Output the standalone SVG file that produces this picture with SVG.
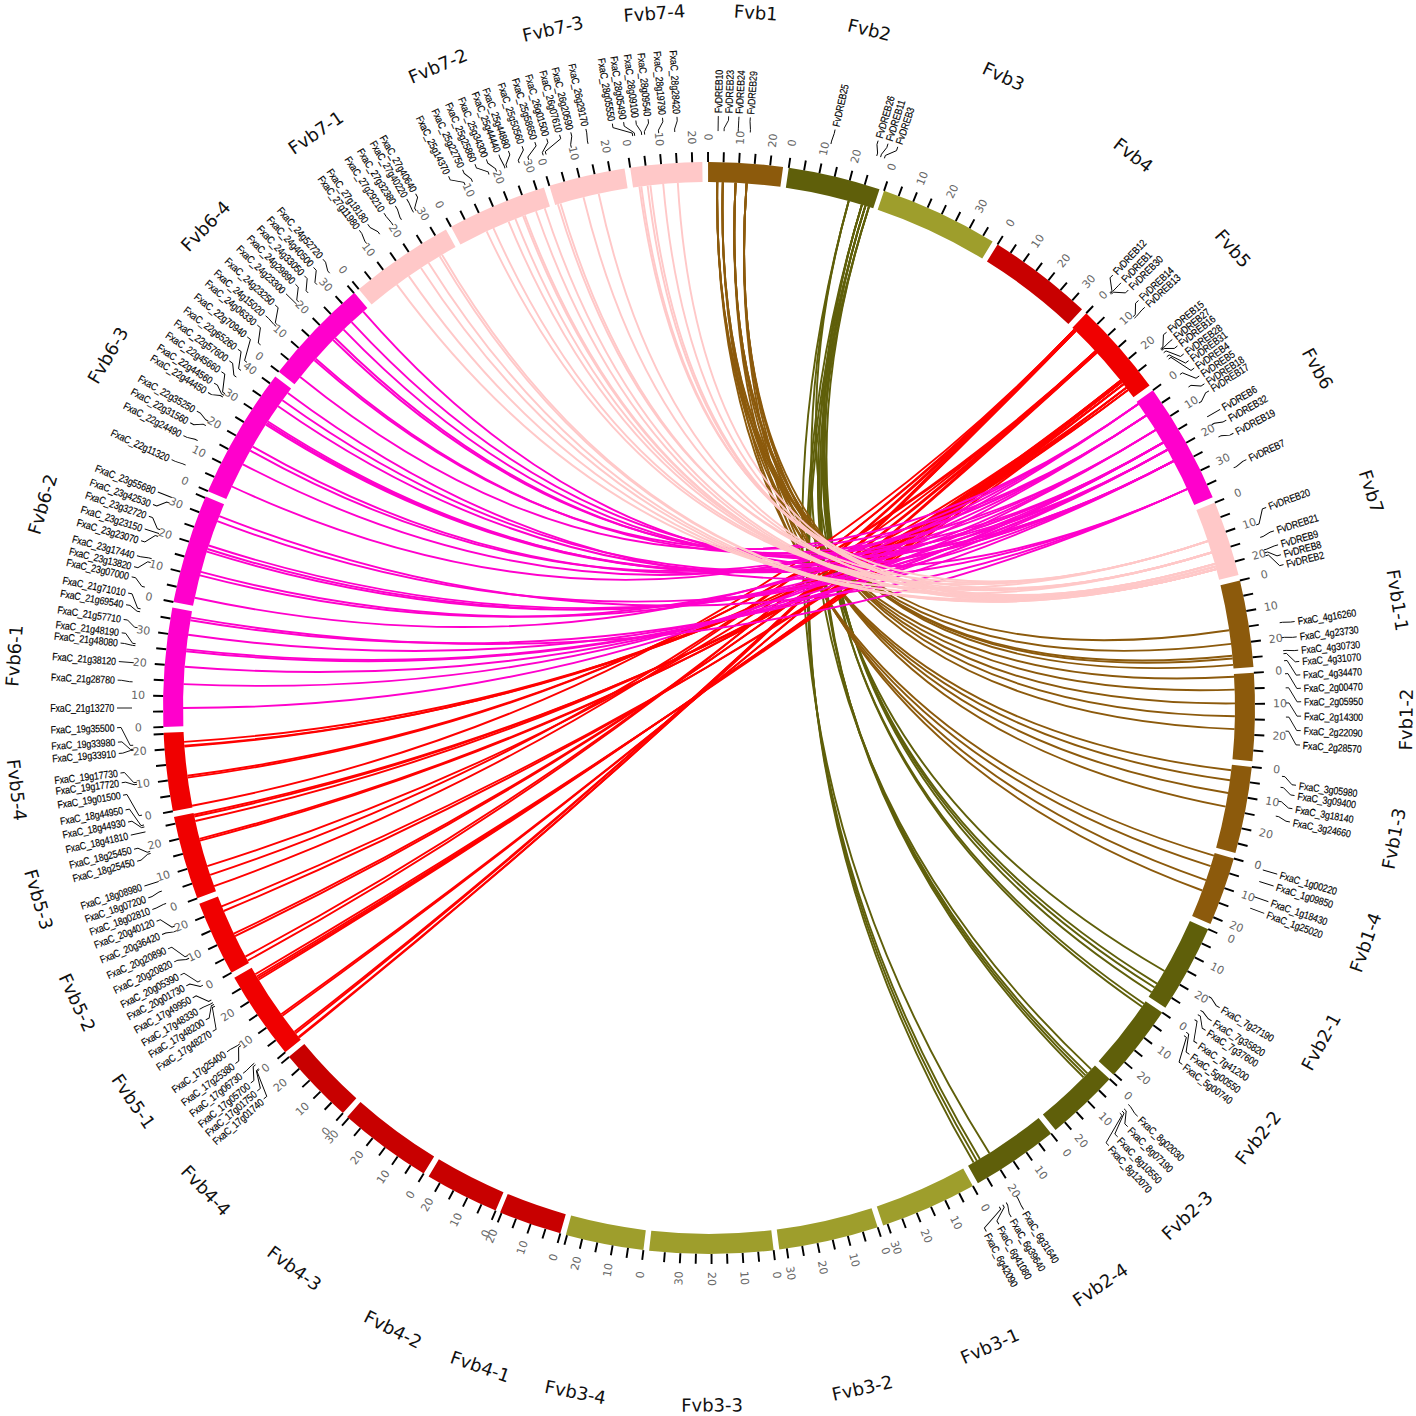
<svg xmlns="http://www.w3.org/2000/svg" width="1416" height="1416" viewBox="0 0 1416 1416">
<style>
.seg{fill:none;stroke-width:20}
.tk{fill:none;stroke:#000;stroke-width:10}
.t5{stroke-dasharray:0.2 1.435 0.2 1.435 0.2 1.435 0.2 1.435 0.2 400}
.t6{stroke-dasharray:0.2 1.435 0.2 1.435 0.2 1.435 0.2 1.435 0.2 1.435 0.2 400}
.t7{stroke-dasharray:0.2 1.435 0.2 1.435 0.2 1.435 0.2 1.435 0.2 1.435 0.2 1.435 0.2 400}
.t8{stroke-dasharray:0.2 1.435 0.2 1.435 0.2 1.435 0.2 1.435 0.2 1.435 0.2 1.435 0.2 1.435 0.2 400}
.t9{stroke-dasharray:0.2 1.435 0.2 1.435 0.2 1.435 0.2 1.435 0.2 1.435 0.2 1.435 0.2 1.435 0.2 1.435 0.2 400}
.tl{font-family:"DejaVu Sans",sans-serif;font-size:11px;fill:#666;text-anchor:middle;dominant-baseline:central}
.cn{font-family:"DejaVu Sans",sans-serif;font-size:18px;fill:#111;text-anchor:middle;dominant-baseline:central}
.gr,.gl{font-family:"Liberation Sans",Arial,sans-serif;font-size:10.5px;letter-spacing:-0.2px;fill:#000;stroke:#000;stroke-width:0.15;dominant-baseline:central}
.gl{text-anchor:end}
.ld{fill:none;stroke:#000;stroke-width:0.9}
.lk path{fill:none;stroke-width:1.9}
</style>
<rect width="1416" height="1416" fill="#fff"/>
<g id="links" class="lk">
<g stroke="#5F5F0A">
<path d="M1164.5 971Q709 708 848.7 200.9"/>
<path d="M1157 983.6Q709 708 861.9 204.7"/>
<path d="M1154.6 987.5Q709 708 865.4 205.8"/>
<path d="M1151.6 992.2Q709 708 868.9 206.9"/>
<path d="M1144 1003.7Q709 708 861.9 204.7"/>
<path d="M1142 1006.7Q709 708 865.4 205.8"/>
<path d="M1091.2 1069.4Q709 708 848.7 200.9"/>
<path d="M1087.4 1073.4Q709 708 861.9 204.7"/>
<path d="M1085.5 1075.4Q709 708 865.4 205.8"/>
<path d="M1083.5 1077.3Q709 708 868.9 206.9"/>
<path d="M989.3 1153.1Q709 708 848.7 200.9"/>
<path d="M979.9 1158.9Q709 708 861.9 204.7"/>
<path d="M976.8 1160.8Q709 708 865.4 205.8"/>
<path d="M973.6 1162.6Q709 708 868.9 206.9"/>
</g>
<g stroke="#8C5A0C">
<path d="M1229.2 630.3Q709 708 717.3 182.1"/>
<path d="M1231.1 643.9Q709 708 722.8 182.2"/>
<path d="M1232.4 655.8Q709 708 735.6 182.7"/>
<path d="M1232.7 658.5Q709 708 735.6 182.7"/>
<path d="M1233.2 664.9Q709 708 746.6 183.3"/>
<path d="M1234.1 676.8Q709 708 717.3 182.1"/>
<path d="M1234.7 689.6Q709 708 722.8 182.2"/>
<path d="M1235 703.4Q709 708 735.6 182.7"/>
<path d="M1234.9 716.3Q709 708 746.6 183.3"/>
<path d="M1234.6 729.1Q709 708 746.6 183.3"/>
<path d="M1231.3 770.3Q709 708 717.3 182.1"/>
<path d="M1230 780.3Q709 708 722.8 182.2"/>
<path d="M1228.1 793Q709 708 735.6 182.7"/>
<path d="M1225.7 806.6Q709 708 746.6 183.3"/>
<path d="M1213.9 855.6Q709 708 717.3 182.1"/>
<path d="M1210.7 866.2Q709 708 722.8 182.2"/>
<path d="M1206 880.1Q709 708 735.6 182.7"/>
<path d="M1202.3 890.5Q709 708 746.6 183.3"/>
</g>
<g stroke="#FF0000">
<path d="M299.1 1037.6Q709 708 1074.4 329.6"/>
<path d="M298.5 1036.9Q709 708 1075.7 330.9"/>
<path d="M295.6 1033.3Q709 708 1074.4 329.6"/>
<path d="M294.5 1031.8Q709 708 1075.7 330.9"/>
<path d="M282.4 1015.7Q709 708 1095.6 351.3"/>
<path d="M281.3 1014.2Q709 708 1096.8 352.6"/>
<path d="M258.6 979.7Q709 708 1120.7 380.6"/>
<path d="M257.7 978.1Q709 708 1121.8 382"/>
<path d="M256.7 976.5Q709 708 1123.5 384.2"/>
<path d="M255.3 974.2Q709 708 1126.3 387.8"/>
<path d="M247.6 960.6Q709 708 1074.4 329.6"/>
<path d="M245.4 956.6Q709 708 1075.7 330.9"/>
<path d="M235 936.1Q709 708 1095.6 351.3"/>
<path d="M233.8 933.6Q709 708 1096.8 352.6"/>
<path d="M223.7 911Q709 708 1120.7 380.6"/>
<path d="M221 906.7Q709 708 1123.5 384.2"/>
<path d="M214.1 886.2Q709 708 1074.4 329.6"/>
<path d="M210.2 874.9Q709 708 1075.7 330.9"/>
<path d="M207.3 866.2Q709 708 1095.6 351.3"/>
<path d="M200 840.6Q709 708 1120.7 380.6"/>
<path d="M199.5 838.8Q709 708 1121.8 382"/>
<path d="M195.3 821Q709 708 1123.5 384.2"/>
<path d="M194.3 816.5Q709 708 1126.3 387.8"/>
<path d="M193.9 814.7Q709 708 1128 390"/>
<path d="M192.1 805.7Q709 708 1074.4 329.6"/>
<path d="M187.6 777.6Q709 708 1095.6 351.3"/>
<path d="M187.4 775.7Q709 708 1096.8 352.6"/>
<path d="M184.4 746.5Q709 708 1121.8 382"/>
<path d="M184.3 745.6Q709 708 1126.3 387.8"/>
<path d="M184.1 741.9Q709 708 1128 390"/>
</g>
<g stroke="#FF00CC">
<path d="M183 708Q709 708 1138.3 404"/>
<path d="M183.5 684.1Q709 708 1146.2 415.5"/>
<path d="M184.6 666.7Q709 708 1155.6 430"/>
<path d="M186.1 651.2Q709 708 1163.1 442.6"/>
<path d="M186.3 649.4Q709 708 1163.1 442.6"/>
<path d="M188.1 634.8Q709 708 1167.3 449.8"/>
<path d="M190.4 620.3Q709 708 1173.4 461.1"/>
<path d="M190.8 617.6Q709 708 1187.3 489"/>
<path d="M194.7 597.7Q709 708 1138.3 404"/>
<path d="M200 575.4Q709 708 1146.2 415.5"/>
<path d="M200.9 571.9Q709 708 1155.6 430"/>
<path d="M206.8 551.6Q709 708 1163.1 442.6"/>
<path d="M207.6 549Q709 708 1167.3 449.8"/>
<path d="M208.7 545.5Q709 708 1167.3 449.8"/>
<path d="M217.3 521.2Q709 708 1173.4 461.1"/>
<path d="M219.3 516.1Q709 708 1187.3 489"/>
<path d="M231.9 486.5Q709 708 1138.3 404"/>
<path d="M242.9 464.3Q709 708 1146.2 415.5"/>
<path d="M250.3 450.6Q709 708 1146.2 415.5"/>
<path d="M252.6 446.6Q709 708 1155.6 430"/>
<path d="M265.9 424.6Q709 708 1163.1 442.6"/>
<path d="M266.9 423.1Q709 708 1163.1 442.6"/>
<path d="M267.9 421.5Q709 708 1167.3 449.8"/>
<path d="M278.1 406.3Q709 708 1173.4 461.1"/>
<path d="M282.4 400.3Q709 708 1173.4 461.1"/>
<path d="M287.8 392.9Q709 708 1187.3 489"/>
<path d="M300.2 377Q709 708 1138.3 404"/>
<path d="M314.4 360.2Q709 708 1146.2 415.5"/>
<path d="M315.7 358.8Q709 708 1155.6 430"/>
<path d="M333.2 340Q709 708 1163.1 442.6"/>
<path d="M335.1 338Q709 708 1167.3 449.8"/>
<path d="M343.6 329.6Q709 708 1173.4 461.1"/>
<path d="M351.6 322.1Q709 708 1173.4 461.1"/>
<path d="M363.2 311.6Q709 708 1187.3 489"/>
</g>
<g stroke="#FFC8C8">
<path d="M396.9 284.6Q709 708 1207.8 541.1"/>
<path d="M408.8 276.1Q709 708 1211.5 552.5"/>
<path d="M421 267.9Q709 708 1214.9 563.9"/>
<path d="M428.7 262.9Q709 708 1215.6 566.5"/>
<path d="M439.7 256.2Q709 708 1216.4 569.2"/>
<path d="M442 254.8Q709 708 1216.4 569.2"/>
<path d="M486.7 231.3Q709 708 1207.8 541.1"/>
<path d="M493.4 228.2Q709 708 1207.8 541.1"/>
<path d="M508.6 221.7Q709 708 1211.5 552.5"/>
<path d="M515.4 218.9Q709 708 1211.5 552.5"/>
<path d="M523.1 216Q709 708 1214.9 563.9"/>
<path d="M524.8 215.3Q709 708 1215.6 566.5"/>
<path d="M536 211.3Q709 708 1216.4 569.2"/>
<path d="M544.7 208.3Q709 708 1216.4 569.2"/>
<path d="M557.9 204.2Q709 708 1207.8 541.1"/>
<path d="M560.5 203.4Q709 708 1211.5 552.5"/>
<path d="M583.5 197.2Q709 708 1214.9 563.9"/>
<path d="M598.7 193.7Q709 708 1216.4 569.2"/>
<path d="M639.4 186.6Q709 708 1207.8 541.1"/>
<path d="M641.3 186.4Q709 708 1211.5 552.5"/>
<path d="M647.6 185.6Q709 708 1214.9 563.9"/>
<path d="M650.4 185.3Q709 708 1215.6 566.5"/>
<path d="M663.2 184Q709 708 1216.4 569.2"/>
<path d="M677.8 182.9Q709 708 1216.4 569.2"/>
</g>
</g>

<g id="Fvb1">
<circle class="seg" cx="709" cy="708" r="536" pathLength="360" stroke="#8C5A0C" stroke-dasharray="7.9 400" transform="rotate(269.9 709 708)"/>
<circle class="tk t5" cx="709" cy="708" r="551" pathLength="360" transform="rotate(269.8 709 708)"/>
<text class="tl" transform="rotate(359.9 709 708) translate(709 137) rotate(90)">0</text>
<text class="tl" transform="rotate(3.17 709 708) translate(709 137) rotate(-90)">10</text>
<text class="tl" transform="rotate(6.44 709 708) translate(709 137) rotate(-90)">20</text>
<text class="cn" x="709" y="11" transform="rotate(3.85 709 708)">Fvb1</text>
<path class="ld" transform="rotate(0.9 709 708)" d="M709 131V128L709 120V116"/>
<path class="ld" transform="rotate(1.5 709 708)" d="M709 131V128L713.1 120V116"/>
<path class="ld" transform="rotate(2.9 709 708)" d="M709 131V128L709 120V116"/>
<path class="ld" transform="rotate(4.1 709 708)" d="M709 131V128L708 120V116"/>
<text class="gr" transform="rotate(0.9 709 708) translate(709 113) rotate(-90) scale(.85 1)">FvDREB10</text>
<text class="gr" transform="rotate(1.9 709 708) translate(709 113) rotate(-90) scale(.85 1)">FvDREB23</text>
<text class="gr" transform="rotate(2.9 709 708) translate(709 113) rotate(-90) scale(.85 1)">FvDREB24</text>
<text class="gr" transform="rotate(4 709 708) translate(709 113) rotate(-90) scale(.85 1)">FvDREB29</text>
</g>

<g id="Fvb2">
<circle class="seg" cx="709" cy="708" r="536" pathLength="360" stroke="#5F5F0A" stroke-dasharray="9.8 400" transform="rotate(-81.6 709 708)"/>
<circle class="tk t6" cx="709" cy="708" r="551" pathLength="360" transform="rotate(-81.7 709 708)"/>
<text class="tl" transform="rotate(8.4 709 708) translate(709 137) rotate(-90)">0</text>
<text class="tl" transform="rotate(11.67 709 708) translate(709 137) rotate(-90)">10</text>
<text class="tl" transform="rotate(14.94 709 708) translate(709 137) rotate(-90)">20</text>
<text class="cn" x="709" y="11" transform="rotate(13.3 709 708)">Fvb2</text>
<path class="ld" transform="rotate(12.2 709 708)" d="M709 131V128L710 120V116"/>
<path class="ld" transform="rotate(16.9 709 708)" d="M709 131V128L705.9 120V116"/>
<path class="ld" transform="rotate(17.3 709 708)" d="M709 131V128L712.1 120V116"/>
<path class="ld" transform="rotate(17.7 709 708)" d="M709 131V128L718.2 120V116"/>
<text class="gr" transform="rotate(12.3 709 708) translate(709 113) rotate(-90) scale(.85 1)">FvDREB25</text>
<text class="gr" transform="rotate(16.6 709 708) translate(709 113) rotate(-90) scale(.85 1)">FvDREB26</text>
<text class="gr" transform="rotate(17.6 709 708) translate(709 113) rotate(-90) scale(.85 1)">FvDREB11</text>
<text class="gr" transform="rotate(18.6 709 708) translate(709 113) rotate(-90) scale(.85 1)">FvDREB3</text>
</g>

<g id="Fvb3">
<circle class="seg" cx="709" cy="708" r="536" pathLength="360" stroke="#9E9E2C" stroke-dasharray="12.6 400" transform="rotate(-71.3 709 708)"/>
<circle class="tk t8" cx="709" cy="708" r="551" pathLength="360" transform="rotate(-71.4 709 708)"/>
<text class="tl" transform="rotate(18.7 709 708) translate(709 137) rotate(-90)">0</text>
<text class="tl" transform="rotate(21.97 709 708) translate(709 137) rotate(-90)">10</text>
<text class="tl" transform="rotate(25.24 709 708) translate(709 137) rotate(-90)">20</text>
<text class="tl" transform="rotate(28.51 709 708) translate(709 137) rotate(-90)">30</text>
<text class="cn" x="709" y="11" transform="rotate(25 709 708)">Fvb3</text>
</g>

<g id="Fvb4">
<circle class="seg" cx="709" cy="708" r="536" pathLength="360" stroke="#C80000" stroke-dasharray="11.2 400" transform="rotate(-58.1 709 708)"/>
<circle class="tk t7" cx="709" cy="708" r="551" pathLength="360" transform="rotate(-58.2 709 708)"/>
<text class="tl" transform="rotate(31.9 709 708) translate(709 137) rotate(-90)">0</text>
<text class="tl" transform="rotate(35.17 709 708) translate(709 137) rotate(-90)">10</text>
<text class="tl" transform="rotate(38.44 709 708) translate(709 137) rotate(-90)">20</text>
<text class="tl" transform="rotate(41.71 709 708) translate(709 137) rotate(-90)">30</text>
<text class="cn" x="709" y="11" transform="rotate(37.5 709 708)">Fvb4</text>
</g>

<g id="Fvb5">
<circle class="seg" cx="709" cy="708" r="536" pathLength="360" stroke="#F00000" stroke-dasharray="10.1 400" transform="rotate(-46.3 709 708)"/>
<circle class="tk t6" cx="709" cy="708" r="551" pathLength="360" transform="rotate(-46.4 709 708)"/>
<text class="tl" transform="rotate(43.7 709 708) translate(709 137) rotate(-90)">0</text>
<text class="tl" transform="rotate(46.97 709 708) translate(709 137) rotate(-90)">10</text>
<text class="tl" transform="rotate(50.24 709 708) translate(709 137) rotate(-90)">20</text>
<text class="cn" x="709" y="11" transform="rotate(48.75 709 708)">Fvb5</text>
<path class="ld" transform="rotate(44 709 708)" d="M709 131V128L698.7 120V116"/>
<path class="ld" transform="rotate(44.1 709 708)" d="M709 131V128L709 120V116"/>
<path class="ld" transform="rotate(44.2 709 708)" d="M709 131V128L718.2 120V116"/>
<path class="ld" transform="rotate(47.3 709 708)" d="M709 131V128L700.8 120V116"/>
<path class="ld" transform="rotate(47.5 709 708)" d="M709 131V128L708 120V116"/>
<path class="ld" transform="rotate(51.5 709 708)" d="M709 131V128L699.8 120V116"/>
<path class="ld" transform="rotate(51.6 709 708)" d="M709 131V128L708 120V116"/>
<path class="ld" transform="rotate(51.7 709 708)" d="M709 131V128L715.2 120V116"/>
<path class="ld" transform="rotate(52 709 708)" d="M709 131V128L722.3 120V116"/>
<path class="ld" transform="rotate(52.5 709 708)" d="M709 131V128L725.4 120V116"/>
<path class="ld" transform="rotate(52.8 709 708)" d="M709 131V128L731.6 120V116"/>
<text class="gr" transform="rotate(43 709 708) translate(709 113) rotate(-90) scale(.85 1)">FvDREB12</text>
<text class="gr" transform="rotate(44.1 709 708) translate(709 113) rotate(-90) scale(.85 1)">FvDREB1</text>
<text class="gr" transform="rotate(45.1 709 708) translate(709 113) rotate(-90) scale(.85 1)">FvDREB30</text>
<text class="gr" transform="rotate(46.5 709 708) translate(709 113) rotate(-90) scale(.85 1)">FvDREB14</text>
<text class="gr" transform="rotate(47.4 709 708) translate(709 113) rotate(-90) scale(.85 1)">FvDREB13</text>
<text class="gr" transform="rotate(50.6 709 708) translate(709 113) rotate(-90) scale(.85 1)">FvDREB15</text>
<text class="gr" transform="rotate(51.5 709 708) translate(709 113) rotate(-90) scale(.85 1)">FvDREB27</text>
<text class="gr" transform="rotate(52.3 709 708) translate(709 113) rotate(-90) scale(.85 1)">FvDREB16</text>
<text class="gr" transform="rotate(53.3 709 708) translate(709 113) rotate(-90) scale(.85 1)">FvDREB28</text>
<text class="gr" transform="rotate(54.1 709 708) translate(709 113) rotate(-90) scale(.85 1)">FvDREB31</text>
<text class="gr" transform="rotate(55 709 708) translate(709 113) rotate(-90) scale(.85 1)">FvDREB4</text>
</g>

<g id="Fvb6">
<circle class="seg" cx="709" cy="708" r="536" pathLength="360" stroke="#FF00CC" stroke-dasharray="12.9 400" transform="rotate(-35.6 709 708)"/>
<circle class="tk t8" cx="709" cy="708" r="551" pathLength="360" transform="rotate(-35.7 709 708)"/>
<text class="tl" transform="rotate(54.4 709 708) translate(709 137) rotate(-90)">0</text>
<text class="tl" transform="rotate(57.67 709 708) translate(709 137) rotate(-90)">10</text>
<text class="tl" transform="rotate(60.94 709 708) translate(709 137) rotate(-90)">20</text>
<text class="tl" transform="rotate(64.21 709 708) translate(709 137) rotate(-90)">30</text>
<text class="cn" x="709" y="11" transform="rotate(60.85 709 708)">Fvb6</text>
<path class="ld" transform="rotate(54.7 709 708)" d="M709 131V128L721.3 120V116"/>
<path class="ld" transform="rotate(56.2 709 708)" d="M709 131V128L715.2 120V116"/>
<path class="ld" transform="rotate(58.1 709 708)" d="M709 131V128L703.9 120V116"/>
<path class="ld" transform="rotate(59.7 709 708)" d="M709 131V128L709 120V116"/>
<path class="ld" transform="rotate(60.6 709 708)" d="M709 131V128L712.1 120V116"/>
<path class="ld" transform="rotate(62 709 708)" d="M709 131V128L712.6 120V116"/>
<path class="ld" transform="rotate(65.4 709 708)" d="M709 131V128L706.9 120V116"/>
<text class="gr" transform="rotate(55.9 709 708) translate(709 113) rotate(-90) scale(.85 1)">FvDREB5</text>
<text class="gr" transform="rotate(56.8 709 708) translate(709 113) rotate(-90) scale(.85 1)">FvDREB18</text>
<text class="gr" transform="rotate(57.6 709 708) translate(709 113) rotate(-90) scale(.85 1)">FvDREB17</text>
<text class="gr" transform="rotate(59.7 709 708) translate(709 113) rotate(-90) scale(.85 1)">FvDREB6</text>
<text class="gr" transform="rotate(60.9 709 708) translate(709 113) rotate(-90) scale(.85 1)">FvDREB32</text>
<text class="gr" transform="rotate(62.35 709 708) translate(709 113) rotate(-90) scale(.85 1)">FvDREB19</text>
<text class="gr" transform="rotate(65.2 709 708) translate(709 113) rotate(-90) scale(.85 1)">FvDREB7</text>
</g>

<g id="Fvb7">
<circle class="seg" cx="709" cy="708" r="536" pathLength="360" stroke="#FFC8C8" stroke-dasharray="8 400" transform="rotate(-22.1 709 708)"/>
<circle class="tk t5" cx="709" cy="708" r="551" pathLength="360" transform="rotate(-22.2 709 708)"/>
<text class="tl" transform="rotate(67.9 709 708) translate(709 137) rotate(-90)">0</text>
<text class="tl" transform="rotate(71.17 709 708) translate(709 137) rotate(-90)">10</text>
<text class="tl" transform="rotate(74.44 709 708) translate(709 137) rotate(-90)">20</text>
<text class="cn" x="709" y="11" transform="rotate(71.9 709 708)">Fvb7</text>
<path class="ld" transform="rotate(71.5 709 708)" d="M709 131V128L695.7 120V116"/>
<path class="ld" transform="rotate(72.8 709 708)" d="M709 131V128L706.9 120V116"/>
<path class="ld" transform="rotate(74.1 709 708)" d="M709 131V128L708 120V116"/>
<path class="ld" transform="rotate(74.4 709 708)" d="M709 131V128L715.2 120V116"/>
<path class="ld" transform="rotate(74.7 709 708)" d="M709 131V128L722.3 120V116"/>
<text class="gr" transform="rotate(70.2 709 708) translate(709 113) rotate(-90) scale(.85 1)">FvDREB20</text>
<text class="gr" transform="rotate(72.6 709 708) translate(709 113) rotate(-90) scale(.85 1)">FvDREB21</text>
<text class="gr" transform="rotate(74 709 708) translate(709 113) rotate(-90) scale(.85 1)">FvDREB9</text>
<text class="gr" transform="rotate(75 709 708) translate(709 113) rotate(-90) scale(.85 1)">FvDREB8</text>
<text class="gr" transform="rotate(76 709 708) translate(709 113) rotate(-90) scale(.85 1)">FvDREB2</text>
</g>

<g id="Fvb1-1">
<circle class="seg" cx="709" cy="708" r="536" pathLength="360" stroke="#8C5A0C" stroke-dasharray="9.2 400" transform="rotate(-13.5 709 708)"/>
<circle class="tk t6" cx="709" cy="708" r="551" pathLength="360" transform="rotate(-13.6 709 708)"/>
<text class="tl" transform="rotate(76.5 709 708) translate(709 137) rotate(-90)">0</text>
<text class="tl" transform="rotate(79.77 709 708) translate(709 137) rotate(-90)">10</text>
<text class="tl" transform="rotate(83.04 709 708) translate(709 137) rotate(-90)">20</text>
<text class="cn" x="709" y="11" transform="rotate(81.1 709 708)">Fvb1-1</text>
<path class="ld" transform="rotate(81.5 709 708)" d="M709 131V128L710 120V116"/>
<path class="ld" transform="rotate(83 709 708)" d="M709 131V128L710 120V116"/>
<path class="ld" transform="rotate(84.3 709 708)" d="M709 131V128L710 120V116"/>
<path class="ld" transform="rotate(84.6 709 708)" d="M709 131V128L718.2 120V116"/>
<path class="ld" transform="rotate(85.3 709 708)" d="M709 131V128L724.4 120V116"/>
<text class="gr" transform="rotate(81.6 709 708) translate(709 113) rotate(-90) scale(.85 1)">FxaC_4g16260</text>
<text class="gr" transform="rotate(83.1 709 708) translate(709 113) rotate(-90) scale(.85 1)">FxaC_4g23730</text>
<text class="gr" transform="rotate(84.4 709 708) translate(709 113) rotate(-90) scale(.85 1)">FxaC_4g30730</text>
<text class="gr" transform="rotate(85.5 709 708) translate(709 113) rotate(-90) scale(.85 1)">FxaC_4g31070</text>
<text class="gr" transform="rotate(86.8 709 708) translate(709 113) rotate(-90) scale(.85 1)">FxaC_4g34470</text>
</g>

<g id="Fvb1-2">
<circle class="seg" cx="709" cy="708" r="536" pathLength="360" stroke="#8C5A0C" stroke-dasharray="9.3 400" transform="rotate(-3.7 709 708)"/>
<circle class="tk t6" cx="709" cy="708" r="551" pathLength="360" transform="rotate(-3.8 709 708)"/>
<text class="tl" transform="rotate(86.3 709 708) translate(709 137) rotate(-90)">0</text>
<text class="tl" transform="rotate(89.57 709 708) translate(709 137) rotate(-90)">10</text>
<text class="tl" transform="rotate(92.84 709 708) translate(709 137) rotate(-90)">20</text>
<text class="cn" x="709" y="11" transform="rotate(90.95 709 708) rotate(180 709 11)">Fvb1-2</text>
<path class="ld" transform="rotate(86.6 709 708)" d="M709 131V128L724.4 120V116"/>
<path class="ld" transform="rotate(88 709 708)" d="M709 131V128L723.4 120V116"/>
<path class="ld" transform="rotate(89.5 709 708)" d="M709 131V128L722.3 120V116"/>
<path class="ld" transform="rotate(90.9 709 708)" d="M709 131V128L722.3 120V116"/>
<path class="ld" transform="rotate(92.3 709 708)" d="M709 131V128L722.3 120V116"/>
<text class="gr" transform="rotate(88.1 709 708) translate(709 113) rotate(-90) scale(.85 1)">FxaC_2g00470</text>
<text class="gr" transform="rotate(89.4 709 708) translate(709 113) rotate(-90) scale(.85 1)">FxaC_2g05950</text>
<text class="gr" transform="rotate(90.8 709 708) translate(709 113) rotate(-90) scale(.85 1)">FxaC_2g14300</text>
<text class="gr" transform="rotate(92.2 709 708) translate(709 113) rotate(-90) scale(.85 1)">FxaC_2g22090</text>
<text class="gr" transform="rotate(93.6 709 708) translate(709 113) rotate(-90) scale(.85 1)">FxaC_2g28570</text>
</g>

<g id="Fvb1-3">
<circle class="seg" cx="709" cy="708" r="536" pathLength="360" stroke="#8C5A0C" stroke-dasharray="9.2 400" transform="rotate(6.2 709 708)"/>
<circle class="tk t6" cx="709" cy="708" r="551" pathLength="360" transform="rotate(6.1 709 708)"/>
<text class="tl" transform="rotate(96.2 709 708) translate(709 137) rotate(-90)">0</text>
<text class="tl" transform="rotate(99.47 709 708) translate(709 137) rotate(-90)">10</text>
<text class="tl" transform="rotate(102.74 709 708) translate(709 137) rotate(-90)">20</text>
<text class="cn" x="709" y="11" transform="rotate(100.8 709 708) rotate(180 709 11)">Fvb1-3</text>
<path class="ld" transform="rotate(96.8 709 708)" d="M709 131V128L716.2 120V116"/>
<path class="ld" transform="rotate(97.9 709 708)" d="M709 131V128L715.2 120V116"/>
<path class="ld" transform="rotate(99.3 709 708)" d="M709 131V128L714.1 120V116"/>
<path class="ld" transform="rotate(100.8 709 708)" d="M709 131V128L712.1 120V116"/>
<text class="gr" transform="rotate(97.5 709 708) translate(709 113) rotate(-90) scale(.85 1)">FxaC_3g05980</text>
<text class="gr" transform="rotate(98.5 709 708) translate(709 113) rotate(-90) scale(.85 1)">FxaC_3g09400</text>
<text class="gr" transform="rotate(99.8 709 708) translate(709 113) rotate(-90) scale(.85 1)">FxaC_3g18140</text>
<text class="gr" transform="rotate(101.1 709 708) translate(709 113) rotate(-90) scale(.85 1)">FxaC_3g24660</text>
</g>

<g id="Fvb1-4">
<circle class="seg" cx="709" cy="708" r="536" pathLength="360" stroke="#8C5A0C" stroke-dasharray="7.3 400" transform="rotate(16 709 708)"/>
<circle class="tk t5" cx="709" cy="708" r="551" pathLength="360" transform="rotate(15.9 709 708)"/>
<text class="tl" transform="rotate(106 709 708) translate(709 137) rotate(-90)">0</text>
<text class="tl" transform="rotate(109.27 709 708) translate(709 137) rotate(-90)">10</text>
<text class="tl" transform="rotate(112.54 709 708) translate(709 137) rotate(-90)">20</text>
<text class="cn" x="709" y="11" transform="rotate(109.65 709 708) rotate(180 709 11)">Fvb1-4</text>
<path class="ld" transform="rotate(106.3 709 708)" d="M709 131V116"/>
<path class="ld" transform="rotate(107.5 709 708)" d="M709 131V116"/>
<path class="ld" transform="rotate(109.1 709 708)" d="M709 131V116"/>
<path class="ld" transform="rotate(110.3 709 708)" d="M709 131V116"/>
<text class="gr" transform="rotate(106.3 709 708) translate(709 113) rotate(-90) scale(.85 1)">FxaC_1g00220</text>
<text class="gr" transform="rotate(107.5 709 708) translate(709 113) rotate(-90) scale(.85 1)">FxaC_1g09850</text>
<text class="gr" transform="rotate(109.1 709 708) translate(709 113) rotate(-90) scale(.85 1)">FxaC_1g18430</text>
<text class="gr" transform="rotate(110.3 709 708) translate(709 113) rotate(-90) scale(.85 1)">FxaC_1g25020</text>
</g>

<g id="Fvb2-1">
<circle class="seg" cx="709" cy="708" r="536" pathLength="360" stroke="#5F5F0A" stroke-dasharray="9.4 400" transform="rotate(23.9 709 708)"/>
<circle class="tk t6" cx="709" cy="708" r="551" pathLength="360" transform="rotate(23.8 709 708)"/>
<text class="tl" transform="rotate(113.9 709 708) translate(709 137) rotate(-90)">0</text>
<text class="tl" transform="rotate(117.17 709 708) translate(709 137) rotate(-90)">10</text>
<text class="tl" transform="rotate(120.44 709 708) translate(709 137) rotate(-90)">20</text>
<text class="cn" x="709" y="11" transform="rotate(118.6 709 708) rotate(180 709 11)">Fvb2-1</text>
<path class="ld" transform="rotate(120 709 708)" d="M709 131V128L713.1 120V116"/>
<path class="ld" transform="rotate(121.6 709 708)" d="M709 131V128L712.1 120V116"/>
<path class="ld" transform="rotate(122.1 709 708)" d="M709 131V128L718.2 120V116"/>
<path class="ld" transform="rotate(122.7 709 708)" d="M709 131V128L727.5 120V116"/>
<text class="gr" transform="rotate(120.4 709 708) translate(709 113) rotate(-90) scale(.85 1)">FxaC_7g27190</text>
<text class="gr" transform="rotate(121.9 709 708) translate(709 113) rotate(-90) scale(.85 1)">FxaC_7g35820</text>
<text class="gr" transform="rotate(123 709 708) translate(709 113) rotate(-90) scale(.85 1)">FxaC_7g37600</text>
<text class="gr" transform="rotate(124.5 709 708) translate(709 113) rotate(-90) scale(.85 1)">FxaC_7g41200</text>
</g>

<g id="Fvb2-2">
<circle class="seg" cx="709" cy="708" r="536" pathLength="360" stroke="#5F5F0A" stroke-dasharray="8.3 400" transform="rotate(33.9 709 708)"/>
<circle class="tk t6" cx="709" cy="708" r="551" pathLength="360" transform="rotate(33.8 709 708)"/>
<text class="tl" transform="rotate(123.9 709 708) translate(709 137) rotate(-90)">0</text>
<text class="tl" transform="rotate(127.17 709 708) translate(709 137) rotate(-90)">10</text>
<text class="tl" transform="rotate(130.44 709 708) translate(709 137) rotate(-90)">20</text>
<text class="cn" x="709" y="11" transform="rotate(128.05 709 708) rotate(180 709 11)">Fvb2-2</text>
<path class="ld" transform="rotate(124.2 709 708)" d="M709 131V128L725.4 120V116"/>
<path class="ld" transform="rotate(124.6 709 708)" d="M709 131V128L733.6 120V116"/>
<text class="gr" transform="rotate(125.8 709 708) translate(709 113) rotate(-90) scale(.85 1)">FxaC_5g00550</text>
<text class="gr" transform="rotate(127 709 708) translate(709 113) rotate(-90) scale(.85 1)">FxaC_5g00740</text>
</g>

<g id="Fvb2-3">
<circle class="seg" cx="709" cy="708" r="536" pathLength="360" stroke="#5F5F0A" stroke-dasharray="7.8 400" transform="rotate(42.8 709 708)"/>
<circle class="tk t5" cx="709" cy="708" r="551" pathLength="360" transform="rotate(42.7 709 708)"/>
<text class="tl" transform="rotate(132.8 709 708) translate(709 137) rotate(-90)">0</text>
<text class="tl" transform="rotate(136.07 709 708) translate(709 137) rotate(-90)">10</text>
<text class="tl" transform="rotate(139.34 709 708) translate(709 137) rotate(-90)">20</text>
<text class="cn" x="709" y="11" transform="rotate(136.7 709 708) rotate(180 709 11)">Fvb2-3</text>
<path class="ld" transform="rotate(133.4 709 708)" d="M709 131V128L711.1 120V116"/>
<path class="ld" transform="rotate(134 709 708)" d="M709 131V128L719.3 120V116"/>
<path class="ld" transform="rotate(134.3 709 708)" d="M709 131V128L730.5 120V116"/>
<path class="ld" transform="rotate(134.6 709 708)" d="M709 131V128L739.8 120V116"/>
<text class="gr" transform="rotate(133.6 709 708) translate(709 113) rotate(-90) scale(.85 1)">FxaC_8g02030</text>
<text class="gr" transform="rotate(135 709 708) translate(709 113) rotate(-90) scale(.85 1)">FxaC_8g07190</text>
<text class="gr" transform="rotate(136.4 709 708) translate(709 113) rotate(-90) scale(.85 1)">FxaC_8g10550</text>
<text class="gr" transform="rotate(137.6 709 708) translate(709 113) rotate(-90) scale(.85 1)">FxaC_8g12070</text>
</g>

<g id="Fvb2-4">
<circle class="seg" cx="709" cy="708" r="536" pathLength="360" stroke="#5F5F0A" stroke-dasharray="9.3 400" transform="rotate(51.2 709 708)"/>
<circle class="tk t6" cx="709" cy="708" r="551" pathLength="360" transform="rotate(51.1 709 708)"/>
<text class="tl" transform="rotate(141.2 709 708) translate(709 137) rotate(-90)">0</text>
<text class="tl" transform="rotate(144.47 709 708) translate(709 137) rotate(-90)">10</text>
<text class="tl" transform="rotate(147.74 709 708) translate(709 137) rotate(-90)">20</text>
<text class="cn" x="709" y="11" transform="rotate(145.85 709 708) rotate(180 709 11)">Fvb2-4</text>
<path class="ld" transform="rotate(147.8 709 708)" d="M709 131V128L710 120V116"/>
<path class="ld" transform="rotate(149 709 708)" d="M709 131V128L712.1 120V116"/>
<path class="ld" transform="rotate(149.4 709 708)" d="M709 131V128L722.3 120V116"/>
<path class="ld" transform="rotate(149.8 709 708)" d="M709 131V128L732.6 120V116"/>
<text class="gr" transform="rotate(147.9 709 708) translate(709 113) rotate(-90) scale(.85 1)">FxaC_6g31640</text>
<text class="gr" transform="rotate(149.3 709 708) translate(709 113) rotate(-90) scale(.85 1)">FxaC_6g39640</text>
<text class="gr" transform="rotate(150.7 709 708) translate(709 113) rotate(-90) scale(.85 1)">FxaC_6g41080</text>
<text class="gr" transform="rotate(152.1 709 708) translate(709 113) rotate(-90) scale(.85 1)">FxaC_6g42090</text>
</g>

<g id="Fvb3-1">
<circle class="seg" cx="709" cy="708" r="536" pathLength="360" stroke="#9E9E2C" stroke-dasharray="10.3 400" transform="rotate(61.1 709 708)"/>
<circle class="tk t7" cx="709" cy="708" r="551" pathLength="360" transform="rotate(61 709 708)"/>
<text class="tl" transform="rotate(151.1 709 708) translate(709 137) rotate(-90)">0</text>
<text class="tl" transform="rotate(154.37 709 708) translate(709 137) rotate(-90)">10</text>
<text class="tl" transform="rotate(157.64 709 708) translate(709 137) rotate(-90)">20</text>
<text class="tl" transform="rotate(160.91 709 708) translate(709 137) rotate(-90)">30</text>
<text class="cn" x="709" y="11" transform="rotate(156.25 709 708) rotate(180 709 11)">Fvb3-1</text>
</g>

<g id="Fvb3-2">
<circle class="seg" cx="709" cy="708" r="536" pathLength="360" stroke="#9E9E2C" stroke-dasharray="10.6 400" transform="rotate(72 709 708)"/>
<circle class="tk t7" cx="709" cy="708" r="551" pathLength="360" transform="rotate(71.9 709 708)"/>
<text class="tl" transform="rotate(162 709 708) translate(709 137) rotate(-90)">0</text>
<text class="tl" transform="rotate(165.27 709 708) translate(709 137) rotate(-90)">10</text>
<text class="tl" transform="rotate(168.54 709 708) translate(709 137) rotate(-90)">20</text>
<text class="tl" transform="rotate(171.81 709 708) translate(709 137) rotate(-90)">30</text>
<text class="cn" x="709" y="11" transform="rotate(167.3 709 708) rotate(180 709 11)">Fvb3-2</text>
</g>

<g id="Fvb3-3">
<circle class="seg" cx="709" cy="708" r="536" pathLength="360" stroke="#9E9E2C" stroke-dasharray="13.1 400" transform="rotate(83.2 709 708)"/>
<circle class="tk t8" cx="709" cy="708" r="551" pathLength="360" transform="rotate(83.1 709 708)"/>
<text class="tl" transform="rotate(173.2 709 708) translate(709 137) rotate(-90)">0</text>
<text class="tl" transform="rotate(176.47 709 708) translate(709 137) rotate(-90)">10</text>
<text class="tl" transform="rotate(179.74 709 708) translate(709 137) rotate(-90)">20</text>
<text class="tl" transform="rotate(183.01 709 708) translate(709 137) rotate(90)">30</text>
<text class="cn" x="709" y="11" transform="rotate(179.75 709 708) rotate(180 709 11)">Fvb3-3</text>
</g>

<g id="Fvb3-4">
<circle class="seg" cx="709" cy="708" r="536" pathLength="360" stroke="#9E9E2C" stroke-dasharray="8.3 400" transform="rotate(96.9 709 708)"/>
<circle class="tk t6" cx="709" cy="708" r="551" pathLength="360" transform="rotate(96.8 709 708)"/>
<text class="tl" transform="rotate(186.9 709 708) translate(709 137) rotate(90)">0</text>
<text class="tl" transform="rotate(190.17 709 708) translate(709 137) rotate(90)">10</text>
<text class="tl" transform="rotate(193.44 709 708) translate(709 137) rotate(90)">20</text>
<text class="cn" x="709" y="11" transform="rotate(191.05 709 708) rotate(180 709 11)">Fvb3-4</text>
</g>

<g id="Fvb4-1">
<circle class="seg" cx="709" cy="708" r="536" pathLength="360" stroke="#C80000" stroke-dasharray="6.7 400" transform="rotate(105.8 709 708)"/>
<circle class="tk t5" cx="709" cy="708" r="551" pathLength="360" transform="rotate(105.7 709 708)"/>
<text class="tl" transform="rotate(195.8 709 708) translate(709 137) rotate(90)">0</text>
<text class="tl" transform="rotate(199.07 709 708) translate(709 137) rotate(90)">10</text>
<text class="tl" transform="rotate(202.34 709 708) translate(709 137) rotate(90)">20</text>
<text class="cn" x="709" y="11" transform="rotate(199.15 709 708) rotate(180 709 11)">Fvb4-1</text>
</g>

<g id="Fvb4-2">
<circle class="seg" cx="709" cy="708" r="536" pathLength="360" stroke="#C80000" stroke-dasharray="7.9 400" transform="rotate(113 709 708)"/>
<circle class="tk t5" cx="709" cy="708" r="551" pathLength="360" transform="rotate(112.9 709 708)"/>
<text class="tl" transform="rotate(203 709 708) translate(709 137) rotate(90)">0</text>
<text class="tl" transform="rotate(206.27 709 708) translate(709 137) rotate(90)">10</text>
<text class="tl" transform="rotate(209.54 709 708) translate(709 137) rotate(90)">20</text>
<text class="cn" x="709" y="11" transform="rotate(206.95 709 708) rotate(180 709 11)">Fvb4-2</text>
</g>

<g id="Fvb4-3">
<circle class="seg" cx="709" cy="708" r="536" pathLength="360" stroke="#C80000" stroke-dasharray="10 400" transform="rotate(121.5 709 708)"/>
<circle class="tk t7" cx="709" cy="708" r="551" pathLength="360" transform="rotate(121.4 709 708)"/>
<text class="tl" transform="rotate(211.5 709 708) translate(709 137) rotate(90)">0</text>
<text class="tl" transform="rotate(214.77 709 708) translate(709 137) rotate(90)">10</text>
<text class="tl" transform="rotate(218.04 709 708) translate(709 137) rotate(90)">20</text>
<text class="tl" transform="rotate(221.31 709 708) translate(709 137) rotate(90)">30</text>
<text class="cn" x="709" y="11" transform="rotate(216.5 709 708) rotate(180 709 11)">Fvb4-3</text>
</g>

<g id="Fvb4-4">
<circle class="seg" cx="709" cy="708" r="536" pathLength="360" stroke="#C80000" stroke-dasharray="8.2 400" transform="rotate(132.1 709 708)"/>
<circle class="tk t6" cx="709" cy="708" r="551" pathLength="360" transform="rotate(132 709 708)"/>
<text class="tl" transform="rotate(222.1 709 708) translate(709 137) rotate(90)">0</text>
<text class="tl" transform="rotate(225.37 709 708) translate(709 137) rotate(90)">10</text>
<text class="tl" transform="rotate(228.64 709 708) translate(709 137) rotate(90)">20</text>
<text class="cn" x="709" y="11" transform="rotate(226.2 709 708) rotate(180 709 11)">Fvb4-4</text>
</g>

<g id="Fvb5-1">
<circle class="seg" cx="709" cy="708" r="536" pathLength="360" stroke="#F00000" stroke-dasharray="9.5 400" transform="rotate(140.9 709 708)"/>
<circle class="tk t6" cx="709" cy="708" r="551" pathLength="360" transform="rotate(140.8 709 708)"/>
<text class="tl" transform="rotate(230.9 709 708) translate(709 137) rotate(90)">0</text>
<text class="tl" transform="rotate(234.17 709 708) translate(709 137) rotate(90)">10</text>
<text class="tl" transform="rotate(237.44 709 708) translate(709 137) rotate(90)">20</text>
<text class="cn" x="709" y="11" transform="rotate(235.65 709 708) rotate(180 709 11)">Fvb5-1</text>
<path class="ld" transform="rotate(231.2 709 708)" d="M709 131V128L683.4 120V116"/>
<path class="ld" transform="rotate(231.3 709 708)" d="M709 131V128L692.6 120V116"/>
<path class="ld" transform="rotate(231.8 709 708)" d="M709 131V128L697.7 120V116"/>
<path class="ld" transform="rotate(232 709 708)" d="M709 131V128L708 120V116"/>
<path class="ld" transform="rotate(234.2 709 708)" d="M709 131V128L697.7 120V116"/>
<path class="ld" transform="rotate(234.4 709 708)" d="M709 131V128L710 120V116"/>
<path class="ld" transform="rotate(238.9 709 708)" d="M709 131V128L688.5 120V116"/>
<path class="ld" transform="rotate(239.1 709 708)" d="M709 131V128L699.8 120V116"/>
<path class="ld" transform="rotate(239.3 709 708)" d="M709 131V128L710 120V116"/>
<path class="ld" transform="rotate(239.6 709 708)" d="M709 131V128L720.3 120V116"/>
<text class="gl" transform="rotate(228.7 709 708) translate(709 113) rotate(90) scale(.85 1)">FxaC_17g01740</text>
<text class="gl" transform="rotate(229.7 709 708) translate(709 113) rotate(90) scale(.85 1)">FxaC_17g01750</text>
<text class="gl" transform="rotate(230.7 709 708) translate(709 113) rotate(90) scale(.85 1)">FxaC_17g05700</text>
<text class="gl" transform="rotate(231.9 709 708) translate(709 113) rotate(90) scale(.85 1)">FxaC_17g06730</text>
<text class="gl" transform="rotate(233.1 709 708) translate(709 113) rotate(90) scale(.85 1)">FxaC_17g25380</text>
<text class="gl" transform="rotate(234.5 709 708) translate(709 113) rotate(90) scale(.85 1)">FxaC_17g25400</text>
<text class="gl" transform="rotate(236.9 709 708) translate(709 113) rotate(90) scale(.85 1)">FxaC_17g48270</text>
<text class="gl" transform="rotate(238.2 709 708) translate(709 113) rotate(90) scale(.85 1)">FxaC_17g48200</text>
<text class="gl" transform="rotate(239.4 709 708) translate(709 113) rotate(90) scale(.85 1)">FxaC_17g48330</text>
<text class="gl" transform="rotate(240.7 709 708) translate(709 113) rotate(90) scale(.85 1)">FxaC_17g49950</text>
</g>

<g id="Fvb5-2">
<circle class="seg" cx="709" cy="708" r="536" pathLength="360" stroke="#F00000" stroke-dasharray="8 400" transform="rotate(151 709 708)"/>
<circle class="tk t5" cx="709" cy="708" r="551" pathLength="360" transform="rotate(150.9 709 708)"/>
<text class="tl" transform="rotate(241 709 708) translate(709 137) rotate(90)">0</text>
<text class="tl" transform="rotate(244.27 709 708) translate(709 137) rotate(90)">10</text>
<text class="tl" transform="rotate(247.54 709 708) translate(709 137) rotate(90)">20</text>
<text class="cn" x="709" y="11" transform="rotate(245 709 708) rotate(180 709 11)">Fvb5-2</text>
<path class="ld" transform="rotate(241.3 709 708)" d="M709 131V128L716.2 120V116"/>
<path class="ld" transform="rotate(241.8 709 708)" d="M709 131V128L723.4 120V116"/>
<path class="ld" transform="rotate(244.3 709 708)" d="M709 131V128L712.1 120V116"/>
<path class="ld" transform="rotate(244.6 709 708)" d="M709 131V128L723.4 120V116"/>
<path class="ld" transform="rotate(247.3 709 708)" d="M709 131V128L711.1 120V116"/>
<path class="ld" transform="rotate(247.8 709 708)" d="M709 131V128L720.3 120V116"/>
<text class="gl" transform="rotate(242 709 708) translate(709 113) rotate(90) scale(.85 1)">FxaC_20g01730</text>
<text class="gl" transform="rotate(243.2 709 708) translate(709 113) rotate(90) scale(.85 1)">FxaC_20g05390</text>
<text class="gl" transform="rotate(244.6 709 708) translate(709 113) rotate(90) scale(.85 1)">FxaC_20g20820</text>
<text class="gl" transform="rotate(246 709 708) translate(709 113) rotate(90) scale(.85 1)">FxaC_20g20890</text>
<text class="gl" transform="rotate(247.5 709 708) translate(709 113) rotate(90) scale(.85 1)">FxaC_20g36420</text>
<text class="gl" transform="rotate(248.9 709 708) translate(709 113) rotate(90) scale(.85 1)">FxaC_20g40120</text>
</g>

<g id="Fvb5-3">
<circle class="seg" cx="709" cy="708" r="536" pathLength="360" stroke="#F00000" stroke-dasharray="8.9 400" transform="rotate(159.6 709 708)"/>
<circle class="tk t6" cx="709" cy="708" r="551" pathLength="360" transform="rotate(159.5 709 708)"/>
<text class="tl" transform="rotate(249.6 709 708) translate(709 137) rotate(90)">0</text>
<text class="tl" transform="rotate(252.87 709 708) translate(709 137) rotate(90)">10</text>
<text class="tl" transform="rotate(256.14 709 708) translate(709 137) rotate(90)">20</text>
<text class="cn" x="709" y="11" transform="rotate(254.05 709 708) rotate(180 709 11)">Fvb5-3</text>
<path class="ld" transform="rotate(250.2 709 708)" d="M709 131V128L708 120V116"/>
<path class="ld" transform="rotate(251.5 709 708)" d="M709 131V128L706.9 120V116"/>
<path class="ld" transform="rotate(252.5 709 708)" d="M709 131V116"/>
<path class="ld" transform="rotate(255.4 709 708)" d="M709 131V128L704.9 120V116"/>
<path class="ld" transform="rotate(255.6 709 708)" d="M709 131V128L715.2 120V116"/>
<path class="ld" transform="rotate(257.6 709 708)" d="M709 131V116"/>
<path class="ld" transform="rotate(258.1 709 708)" d="M709 131V128L717.2 120V116"/>
<path class="ld" transform="rotate(258.3 709 708)" d="M709 131V128L727.5 120V116"/>
<text class="gl" transform="rotate(250.1 709 708) translate(709 113) rotate(90) scale(.85 1)">FxaC_18g02810</text>
<text class="gl" transform="rotate(251.3 709 708) translate(709 113) rotate(90) scale(.85 1)">FxaC_18g07200</text>
<text class="gl" transform="rotate(252.5 709 708) translate(709 113) rotate(90) scale(.85 1)">FxaC_18g08980</text>
<text class="gl" transform="rotate(255 709 708) translate(709 113) rotate(90) scale(.85 1)">FxaC_18g25450</text>
<text class="gl" transform="rotate(256.2 709 708) translate(709 113) rotate(90) scale(.85 1)">FxaC_18g25450</text>
<text class="gl" transform="rotate(257.6 709 708) translate(709 113) rotate(90) scale(.85 1)">FxaC_18g41810</text>
<text class="gl" transform="rotate(258.9 709 708) translate(709 113) rotate(90) scale(.85 1)">FxaC_18g44930</text>
<text class="gl" transform="rotate(260.1 709 708) translate(709 113) rotate(90) scale(.85 1)">FxaC_18g44950</text>
</g>

<g id="Fvb5-4">
<circle class="seg" cx="709" cy="708" r="536" pathLength="360" stroke="#F00000" stroke-dasharray="8.3 400" transform="rotate(169.1 709 708)"/>
<circle class="tk t6" cx="709" cy="708" r="551" pathLength="360" transform="rotate(169 709 708)"/>
<text class="tl" transform="rotate(259.1 709 708) translate(709 137) rotate(90)">0</text>
<text class="tl" transform="rotate(262.37 709 708) translate(709 137) rotate(90)">10</text>
<text class="tl" transform="rotate(265.64 709 708) translate(709 137) rotate(90)">20</text>
<text class="cn" x="709" y="11" transform="rotate(263.25 709 708) rotate(180 709 11)">Fvb5-4</text>
<path class="ld" transform="rotate(259.3 709 708)" d="M709 131V128L732.1 120V116"/>
<path class="ld" transform="rotate(262.4 709 708)" d="M709 131V128L712.6 120V116"/>
<path class="ld" transform="rotate(262.6 709 708)" d="M709 131V128L720.3 120V116"/>
<path class="ld" transform="rotate(265.8 709 708)" d="M709 131V128L706.9 120V116"/>
<path class="ld" transform="rotate(265.9 709 708)" d="M709 131V128L717.2 120V116"/>
<path class="ld" transform="rotate(266.3 709 708)" d="M709 131V128L727.5 120V116"/>
<text class="gl" transform="rotate(261.55 709 708) translate(709 113) rotate(90) scale(.85 1)">FxaC_19g01500</text>
<text class="gl" transform="rotate(262.75 709 708) translate(709 113) rotate(90) scale(.85 1)">FxaC_19g17720</text>
<text class="gl" transform="rotate(263.7 709 708) translate(709 113) rotate(90) scale(.85 1)">FxaC_19g17730</text>
<text class="gl" transform="rotate(265.6 709 708) translate(709 113) rotate(90) scale(.85 1)">FxaC_19g33910</text>
<text class="gl" transform="rotate(266.7 709 708) translate(709 113) rotate(90) scale(.85 1)">FxaC_19g33980</text>
<text class="gl" transform="rotate(268.1 709 708) translate(709 113) rotate(90) scale(.85 1)">FxaC_19g35500</text>
</g>

<g id="Fvb6-1">
<circle class="seg" cx="709" cy="708" r="536" pathLength="360" stroke="#FF00CC" stroke-dasharray="12.6 400" transform="rotate(178 709 708)"/>
<circle class="tk t8" cx="709" cy="708" r="551" pathLength="360" transform="rotate(177.9 709 708)"/>
<text class="tl" transform="rotate(268 709 708) translate(709 137) rotate(90)">0</text>
<text class="tl" transform="rotate(271.27 709 708) translate(709 137) rotate(90)">10</text>
<text class="tl" transform="rotate(274.54 709 708) translate(709 137) rotate(90)">20</text>
<text class="tl" transform="rotate(277.81 709 708) translate(709 137) rotate(90)">30</text>
<text class="cn" x="709" y="11" transform="rotate(274.3 709 708)">Fvb6-1</text>
<path class="ld" transform="rotate(270 709 708)" d="M709 131V116"/>
<path class="ld" transform="rotate(272.6 709 708)" d="M709 131V128L710 120V116"/>
<path class="ld" transform="rotate(274.5 709 708)" d="M709 131V116"/>
<path class="ld" transform="rotate(276.2 709 708)" d="M709 131V128L710 120V116"/>
<path class="ld" transform="rotate(276.4 709 708)" d="M709 131V128L718.2 120V116"/>
<path class="ld" transform="rotate(278 709 708)" d="M709 131V128L715.2 120V116"/>
<path class="ld" transform="rotate(279.6 709 708)" d="M709 131V128L713.6 120V116"/>
<path class="ld" transform="rotate(279.9 709 708)" d="M709 131V128L722.3 120V116"/>
<text class="gl" transform="rotate(270 709 708) translate(709 113) rotate(90) scale(.85 1)">FxaC_21g13270</text>
<text class="gl" transform="rotate(272.7 709 708) translate(709 113) rotate(90) scale(.85 1)">FxaC_21g28780</text>
<text class="gl" transform="rotate(274.5 709 708) translate(709 113) rotate(90) scale(.85 1)">FxaC_21g38120</text>
<text class="gl" transform="rotate(276.3 709 708) translate(709 113) rotate(90) scale(.85 1)">FxaC_21g48080</text>
<text class="gl" transform="rotate(277.3 709 708) translate(709 113) rotate(90) scale(.85 1)">FxaC_21g48190</text>
<text class="gl" transform="rotate(278.6 709 708) translate(709 113) rotate(90) scale(.85 1)">FxaC_21g57710</text>
<text class="gl" transform="rotate(280.05 709 708) translate(709 113) rotate(90) scale(.85 1)">FxaC_21g69540</text>
<text class="gl" transform="rotate(281.2 709 708) translate(709 113) rotate(90) scale(.85 1)">FxaC_21g71010</text>
</g>

<g id="Fvb6-2">
<circle class="seg" cx="709" cy="708" r="536" pathLength="360" stroke="#FF00CC" stroke-dasharray="11.6 400" transform="rotate(191.2 709 708)"/>
<circle class="tk t8" cx="709" cy="708" r="551" pathLength="360" transform="rotate(191.1 709 708)"/>
<text class="tl" transform="rotate(281.2 709 708) translate(709 137) rotate(90)">0</text>
<text class="tl" transform="rotate(284.47 709 708) translate(709 137) rotate(90)">10</text>
<text class="tl" transform="rotate(287.74 709 708) translate(709 137) rotate(90)">20</text>
<text class="tl" transform="rotate(291.01 709 708) translate(709 137) rotate(90)">30</text>
<text class="cn" x="709" y="11" transform="rotate(287 709 708)">Fvb6-2</text>
<path class="ld" transform="rotate(282.1 709 708)" d="M709 131V128L716.2 120V116"/>
<path class="ld" transform="rotate(284.6 709 708)" d="M709 131V128L700.8 120V116"/>
<path class="ld" transform="rotate(285 709 708)" d="M709 131V128L708 120V116"/>
<path class="ld" transform="rotate(287.3 709 708)" d="M709 131V128L699.8 120V116"/>
<path class="ld" transform="rotate(287.6 709 708)" d="M709 131V116"/>
<path class="ld" transform="rotate(288 709 708)" d="M709 131V128L718.2 120V116"/>
<path class="ld" transform="rotate(290.8 709 708)" d="M709 131V128L701.8 120V116"/>
<path class="ld" transform="rotate(291.4 709 708)" d="M709 131V116"/>
<text class="gl" transform="rotate(282.8 709 708) translate(709 113) rotate(90) scale(.85 1)">FxaC_23g07000</text>
<text class="gl" transform="rotate(283.8 709 708) translate(709 113) rotate(90) scale(.85 1)">FxaC_23g13820</text>
<text class="gl" transform="rotate(284.9 709 708) translate(709 113) rotate(90) scale(.85 1)">FxaC_23g17440</text>
<text class="gl" transform="rotate(286.4 709 708) translate(709 113) rotate(90) scale(.85 1)">FxaC_23g23070</text>
<text class="gl" transform="rotate(287.6 709 708) translate(709 113) rotate(90) scale(.85 1)">FxaC_23g23150</text>
<text class="gl" transform="rotate(288.9 709 708) translate(709 113) rotate(90) scale(.85 1)">FxaC_23g32720</text>
<text class="gl" transform="rotate(290.1 709 708) translate(709 113) rotate(90) scale(.85 1)">FxaC_23g42530</text>
<text class="gl" transform="rotate(291.4 709 708) translate(709 113) rotate(90) scale(.85 1)">FxaC_23g55680</text>
</g>

<g id="Fvb6-3">
<circle class="seg" cx="709" cy="708" r="536" pathLength="360" stroke="#FF00CC" stroke-dasharray="14 400" transform="rotate(203.4 709 708)"/>
<circle class="tk t9" cx="709" cy="708" r="551" pathLength="360" transform="rotate(203.3 709 708)"/>
<text class="tl" transform="rotate(293.4 709 708) translate(709 137) rotate(90)">0</text>
<text class="tl" transform="rotate(296.67 709 708) translate(709 137) rotate(90)">10</text>
<text class="tl" transform="rotate(299.94 709 708) translate(709 137) rotate(90)">20</text>
<text class="tl" transform="rotate(303.21 709 708) translate(709 137) rotate(90)">30</text>
<text class="tl" transform="rotate(306.48 709 708) translate(709 137) rotate(90)">40</text>
<text class="cn" x="709" y="11" transform="rotate(300.4 709 708)">Fvb6-3</text>
<path class="ld" transform="rotate(294.9 709 708)" d="M709 131V128L708 120V116"/>
<path class="ld" transform="rotate(297.6 709 708)" d="M709 131V128L706.9 120V116"/>
<path class="ld" transform="rotate(299.3 709 708)" d="M709 131V128L703.9 120V116"/>
<path class="ld" transform="rotate(299.8 709 708)" d="M709 131V128L712.1 120V116"/>
<path class="ld" transform="rotate(302.6 709 708)" d="M709 131V128L704.9 120V116"/>
<path class="ld" transform="rotate(302.8 709 708)" d="M709 131V128L714.1 120V116"/>
<path class="ld" transform="rotate(303 709 708)" d="M709 131V128L725.4 120V116"/>
<path class="ld" transform="rotate(305 709 708)" d="M709 131V128L718.2 120V116"/>
<path class="ld" transform="rotate(305.8 709 708)" d="M709 131V128L724.4 120V116"/>
<path class="ld" transform="rotate(306.8 709 708)" d="M709 131V128L729.5 120V116"/>
<text class="gl" transform="rotate(294.8 709 708) translate(709 113) rotate(90) scale(.85 1)">FxaC_22g11320</text>
<text class="gl" transform="rotate(297.4 709 708) translate(709 113) rotate(90) scale(.85 1)">FxaC_22g24490</text>
<text class="gl" transform="rotate(298.8 709 708) translate(709 113) rotate(90) scale(.85 1)">FxaC_22g31560</text>
<text class="gl" transform="rotate(300.1 709 708) translate(709 113) rotate(90) scale(.85 1)">FxaC_22g35250</text>
<text class="gl" transform="rotate(302.2 709 708) translate(709 113) rotate(90) scale(.85 1)">FxaC_22g44450</text>
<text class="gl" transform="rotate(303.3 709 708) translate(709 113) rotate(90) scale(.85 1)">FxaC_22g44560</text>
<text class="gl" transform="rotate(304.6 709 708) translate(709 113) rotate(90) scale(.85 1)">FxaC_22g45660</text>
<text class="gl" transform="rotate(305.9 709 708) translate(709 113) rotate(90) scale(.85 1)">FxaC_22g57600</text>
<text class="gl" transform="rotate(307.3 709 708) translate(709 113) rotate(90) scale(.85 1)">FxaC_22g65260</text>
<text class="gl" transform="rotate(308.8 709 708) translate(709 113) rotate(90) scale(.85 1)">FxaC_22g70940</text>
</g>

<g id="Fvb6-4">
<circle class="seg" cx="709" cy="708" r="536" pathLength="360" stroke="#FF00CC" stroke-dasharray="11.5 400" transform="rotate(218 709 708)"/>
<circle class="tk t8" cx="709" cy="708" r="551" pathLength="360" transform="rotate(217.9 709 708)"/>
<text class="tl" transform="rotate(308 709 708) translate(709 137) rotate(90)">0</text>
<text class="tl" transform="rotate(311.27 709 708) translate(709 137) rotate(90)">10</text>
<text class="tl" transform="rotate(314.54 709 708) translate(709 137) rotate(90)">20</text>
<text class="tl" transform="rotate(317.81 709 708) translate(709 137) rotate(90)">30</text>
<text class="cn" x="709" y="11" transform="rotate(313.75 709 708)">Fvb6-4</text>
<path class="ld" transform="rotate(309 709 708)" d="M709 131V128L722.3 120V116"/>
<path class="ld" transform="rotate(311.4 709 708)" d="M709 131V128L710 120V116"/>
<path class="ld" transform="rotate(311.6 709 708)" d="M709 131V128L722.3 120V116"/>
<path class="ld" transform="rotate(314.4 709 708)" d="M709 131V116"/>
<path class="ld" transform="rotate(314.7 709 708)" d="M709 131V128L719.3 120V116"/>
<path class="ld" transform="rotate(316 709 708)" d="M709 131V128L718.2 120V116"/>
<path class="ld" transform="rotate(317.2 709 708)" d="M709 131V128L718.2 120V116"/>
<path class="ld" transform="rotate(318.9 709 708)" d="M709 131V128L713.1 120V116"/>
<text class="gl" transform="rotate(310.3 709 708) translate(709 113) rotate(90) scale(.85 1)">FxaC_24g06330</text>
<text class="gl" transform="rotate(311.5 709 708) translate(709 113) rotate(90) scale(.85 1)">FxaC_24g15020</text>
<text class="gl" transform="rotate(312.9 709 708) translate(709 113) rotate(90) scale(.85 1)">FxaC_24g23250</text>
<text class="gl" transform="rotate(314.4 709 708) translate(709 113) rotate(90) scale(.85 1)">FxaC_24g23300</text>
<text class="gl" transform="rotate(315.7 709 708) translate(709 113) rotate(90) scale(.85 1)">FxaC_24g29890</text>
<text class="gl" transform="rotate(316.9 709 708) translate(709 113) rotate(90) scale(.85 1)">FxaC_24g33050</text>
<text class="gl" transform="rotate(318.1 709 708) translate(709 113) rotate(90) scale(.85 1)">FxaC_24g40500</text>
<text class="gl" transform="rotate(319.3 709 708) translate(709 113) rotate(90) scale(.85 1)">FxaC_24g52720</text>
</g>

<g id="Fvb7-1">
<circle class="seg" cx="709" cy="708" r="536" pathLength="360" stroke="#FFC8C8" stroke-dasharray="11.1 400" transform="rotate(230.1 709 708)"/>
<circle class="tk t7" cx="709" cy="708" r="551" pathLength="360" transform="rotate(230 709 708)"/>
<text class="tl" transform="rotate(320.1 709 708) translate(709 137) rotate(90)">0</text>
<text class="tl" transform="rotate(323.37 709 708) translate(709 137) rotate(90)">10</text>
<text class="tl" transform="rotate(326.64 709 708) translate(709 137) rotate(90)">20</text>
<text class="tl" transform="rotate(329.91 709 708) translate(709 137) rotate(90)">30</text>
<text class="cn" x="709" y="11" transform="rotate(325.65 709 708)">Fvb7-1</text>
<path class="ld" transform="rotate(323.6 709 708)" d="M709 131V128L711.1 120V116"/>
<path class="ld" transform="rotate(325.2 709 708)" d="M709 131V128L704.9 120V116"/>
<path class="ld" transform="rotate(326.8 709 708)" d="M709 131V128L708 120V116"/>
<path class="ld" transform="rotate(327.8 709 708)" d="M709 131V128L711.1 120V116"/>
<path class="ld" transform="rotate(329.2 709 708)" d="M709 131V128L710 120V116"/>
<path class="ld" transform="rotate(329.5 709 708)" d="M709 131V128L717.2 120V116"/>
<text class="gl" transform="rotate(323.8 709 708) translate(709 113) rotate(90) scale(.85 1)">FxaC_27g11980</text>
<text class="gl" transform="rotate(324.8 709 708) translate(709 113) rotate(90) scale(.85 1)">FxaC_27g18180</text>
<text class="gl" transform="rotate(326.7 709 708) translate(709 113) rotate(90) scale(.85 1)">FxaC_27g29210</text>
<text class="gl" transform="rotate(328 709 708) translate(709 113) rotate(90) scale(.85 1)">FxaC_27g32380</text>
<text class="gl" transform="rotate(329.3 709 708) translate(709 113) rotate(90) scale(.85 1)">FxaC_27g40220</text>
<text class="gl" transform="rotate(330.3 709 708) translate(709 113) rotate(90) scale(.85 1)">FxaC_27g40640</text>
</g>

<g id="Fvb7-2">
<circle class="seg" cx="709" cy="708" r="536" pathLength="360" stroke="#FFC8C8" stroke-dasharray="10.6 400" transform="rotate(241.8 709 708)"/>
<circle class="tk t7" cx="709" cy="708" r="551" pathLength="360" transform="rotate(241.7 709 708)"/>
<text class="tl" transform="rotate(331.8 709 708) translate(709 137) rotate(90)">0</text>
<text class="tl" transform="rotate(335.07 709 708) translate(709 137) rotate(90)">10</text>
<text class="tl" transform="rotate(338.34 709 708) translate(709 137) rotate(90)">20</text>
<text class="tl" transform="rotate(341.61 709 708) translate(709 137) rotate(90)">30</text>
<text class="cn" x="709" y="11" transform="rotate(337.1 709 708)">Fvb7-2</text>
<path class="ld" transform="rotate(335 709 708)" d="M709 131V128L697.7 120V116"/>
<path class="ld" transform="rotate(335.8 709 708)" d="M709 131V128L704.9 120V116"/>
<path class="ld" transform="rotate(337.6 709 708)" d="M709 131V128L699.8 120V116"/>
<path class="ld" transform="rotate(338.4 709 708)" d="M709 131V128L703.9 120V116"/>
<path class="ld" transform="rotate(339.3 709 708)" d="M709 131V128L708 120V116"/>
<path class="ld" transform="rotate(339.5 709 708)" d="M709 131V128L716.2 120V116"/>
<path class="ld" transform="rotate(340.8 709 708)" d="M709 131V128L717.2 120V116"/>
<path class="ld" transform="rotate(341.8 709 708)" d="M709 131V128L720.3 120V116"/>
<text class="gl" transform="rotate(333.9 709 708) translate(709 113) rotate(90) scale(.85 1)">FxaC_25g14370</text>
<text class="gl" transform="rotate(335.4 709 708) translate(709 113) rotate(90) scale(.85 1)">FxaC_25g22750</text>
<text class="gl" transform="rotate(336.7 709 708) translate(709 113) rotate(90) scale(.85 1)">FxaC_25g25860</text>
<text class="gl" transform="rotate(337.9 709 708) translate(709 113) rotate(90) scale(.85 1)">FxaC_25g34300</text>
<text class="gl" transform="rotate(339.2 709 708) translate(709 113) rotate(90) scale(.85 1)">FxaC_25g44440</text>
<text class="gl" transform="rotate(340.2 709 708) translate(709 113) rotate(90) scale(.85 1)">FxaC_25g44880</text>
<text class="gl" transform="rotate(341.6 709 708) translate(709 113) rotate(90) scale(.85 1)">FxaC_25g50560</text>
<text class="gl" transform="rotate(342.9 709 708) translate(709 113) rotate(90) scale(.85 1)">FxaC_25g58650</text>
</g>

<g id="Fvb7-3">
<circle class="seg" cx="709" cy="708" r="536" pathLength="360" stroke="#FFC8C8" stroke-dasharray="8.1 400" transform="rotate(253 709 708)"/>
<circle class="tk t5" cx="709" cy="708" r="551" pathLength="360" transform="rotate(252.9 709 708)"/>
<text class="tl" transform="rotate(343 709 708) translate(709 137) rotate(90)">0</text>
<text class="tl" transform="rotate(346.27 709 708) translate(709 137) rotate(90)">10</text>
<text class="tl" transform="rotate(349.54 709 708) translate(709 137) rotate(90)">20</text>
<text class="cn" x="709" y="11" transform="rotate(347.05 709 708)">Fvb7-3</text>
<path class="ld" transform="rotate(343.3 709 708)" d="M709 131V128L717.2 120V116"/>
<path class="ld" transform="rotate(343.6 709 708)" d="M709 131V128L727.5 120V116"/>
<path class="ld" transform="rotate(346.2 709 708)" d="M709 131V128L712.1 120V116"/>
<path class="ld" transform="rotate(347.9 709 708)" d="M709 131V128L710 120V116"/>
<text class="gl" transform="rotate(344.1 709 708) translate(709 113) rotate(90) scale(.85 1)">FxaC_26g01500</text>
<text class="gl" transform="rotate(345.4 709 708) translate(709 113) rotate(90) scale(.85 1)">FxaC_26g07610</text>
<text class="gl" transform="rotate(346.5 709 708) translate(709 113) rotate(90) scale(.85 1)">FxaC_26g20590</text>
<text class="gl" transform="rotate(348 709 708) translate(709 113) rotate(90) scale(.85 1)">FxaC_26g29170</text>
</g>

<g id="Fvb7-4">
<circle class="seg" cx="709" cy="708" r="536" pathLength="360" stroke="#FFC8C8" stroke-dasharray="7.6 400" transform="rotate(261.7 709 708)"/>
<circle class="tk t5" cx="709" cy="708" r="551" pathLength="360" transform="rotate(261.6 709 708)"/>
<text class="tl" transform="rotate(351.7 709 708) translate(709 137) rotate(90)">0</text>
<text class="tl" transform="rotate(354.97 709 708) translate(709 137) rotate(90)">10</text>
<text class="tl" transform="rotate(358.24 709 708) translate(709 137) rotate(90)">20</text>
<text class="cn" x="709" y="11" transform="rotate(355.5 709 708)">Fvb7-4</text>
<path class="ld" transform="rotate(352.4 709 708)" d="M709 131V128L690.5 120V116"/>
<path class="ld" transform="rotate(352.6 709 708)" d="M709 131V128L699.8 120V116"/>
<path class="ld" transform="rotate(353.3 709 708)" d="M709 131V128L704.9 120V116"/>
<path class="ld" transform="rotate(353.6 709 708)" d="M709 131V128L714.1 120V116"/>
<path class="ld" transform="rotate(355 709 708)" d="M709 131V128L714.1 120V116"/>
<path class="ld" transform="rotate(356.6 709 708)" d="M709 131V128L712.1 120V116"/>
<text class="gl" transform="rotate(350.6 709 708) translate(709 113) rotate(90) scale(.85 1)">FxaC_28g05550</text>
<text class="gl" transform="rotate(351.7 709 708) translate(709 113) rotate(90) scale(.85 1)">FxaC_28g05490</text>
<text class="gl" transform="rotate(352.9 709 708) translate(709 113) rotate(90) scale(.85 1)">FxaC_28g09100</text>
<text class="gl" transform="rotate(354.1 709 708) translate(709 113) rotate(90) scale(.85 1)">FxaC_28g09540</text>
<text class="gl" transform="rotate(355.5 709 708) translate(709 113) rotate(90) scale(.85 1)">FxaC_28g19790</text>
<text class="gl" transform="rotate(356.9 709 708) translate(709 113) rotate(90) scale(.85 1)">FxaC_28g28420</text>
</g>
</svg>
